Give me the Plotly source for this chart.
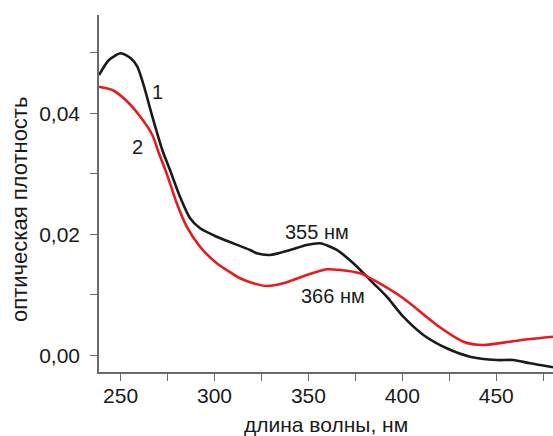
import plotly.graph_objects as go

# curve 1 (black)
wl1 = [238.5, 243.8, 250.1, 255.4, 258.9, 262.5, 266.9, 272.2, 276.3, 281.6, 287.0, 292.3,
       301.2, 318.9, 322.5, 329.6, 340.2, 349.1, 356.2, 365.1, 373.9, 384.6, 391.7, 400.5,
       411.2, 423.6, 436.0, 450.3, 459.1, 468.0, 480.2]
od1 = [0.04633, 0.04881, 0.04992, 0.04909, 0.04770, 0.04440, 0.03944, 0.03393, 0.03063,
       0.02621, 0.02264, 0.02099, 0.01960, 0.01741, 0.01686, 0.01658, 0.01741, 0.01823,
       0.01851, 0.01741, 0.01521, 0.01190, 0.00969, 0.00638, 0.00336, 0.00116, -0.00023,
       -0.00078, -0.00078, -0.00132, -0.00198]

# curve 2 (red)
wl2 = [238.5, 245.6, 252.7, 259.8, 266.9, 270.4, 274.5, 279.9, 285.2, 292.3, 301.2, 306.5,
       313.6, 320.7, 327.8, 336.6, 349.1, 359.7, 366.8, 377.5, 384.6, 400.5, 418.3, 432.5,
       443.1, 457.3, 468.0, 480.2]
od2 = [0.04440, 0.04385, 0.04220, 0.03972, 0.03641, 0.03339, 0.03008, 0.02512, 0.02126,
       0.01795, 0.01521, 0.01410, 0.01273, 0.01190, 0.01145, 0.01190, 0.01327, 0.01421,
       0.01410, 0.01355, 0.01245, 0.00942, 0.00501, 0.00225, 0.00170, 0.00225, 0.00269,
       0.00307]

x_ticks = [250, 300, 350, 400, 450]
y_ticks = [0.00, 0.02, 0.04]

FONT = "Liberation Sans, Arial, sans-serif"
AX = "#6a6a6a"
TXT = "#1a1a1a"

fig = go.Figure()
fig.add_trace(go.Scatter(x=wl1, y=od1, mode="lines",
                         line=dict(color="#1a1a1a", width=2.6, shape="spline", smoothing=0.7),
                         showlegend=False, hoverinfo="skip"))
fig.add_trace(go.Scatter(x=wl2, y=od2, mode="lines",
                         line=dict(color="#e8191f", width=2.6, shape="spline", smoothing=0.7),
                         showlegend=False, hoverinfo="skip"))

ann_font = dict(family=FONT, size=20, color=TXT)
fig.add_annotation(x=269.5, y=0.04357, text="1", showarrow=False, font=ann_font)
fig.add_annotation(x=258.9, y=0.03448, text="2", showarrow=False, font=ann_font)
fig.add_annotation(x=354.4, y=0.02043, text="355 нм", showarrow=False, font=ann_font)
fig.add_annotation(x=363.1, y=0.0098, text="366 нм", showarrow=False, font=ann_font)
# axis titles
fig.add_annotation(xref="paper", yref="paper", x=-0.174, y=0.454, text="оптическая плотность",
                   textangle=-90, showarrow=False, font=dict(family=FONT, size=22, color=TXT),
                   xanchor="center", yanchor="middle")
fig.add_annotation(xref="paper", yref="paper", x=0.499, y=-0.148, text="длина волны, нм",
                   showarrow=False, font=dict(family=FONT, size=21, color=TXT),
                   xanchor="center", yanchor="middle")

fig.update_layout(
    width=553, height=436,
    margin=dict(l=99, r=0, t=15, b=64, autoexpand=False),
    paper_bgcolor="white", plot_bgcolor="white",
    separators=", ",
    font=dict(family=FONT, size=20, color=TXT),
    xaxis=dict(range=[238.5, 480.2], tickvals=x_ticks, ticks="outside", ticklen=7,
               tickwidth=1.3, tickcolor=AX, showline=True, linecolor=AX, linewidth=1.5,
               showgrid=False, zeroline=False, tickfont=dict(size=21), automargin=False,
               ticklabelstandoff=-3,
               minor=dict(dtick=25, tick0=250, ticks="outside", ticklen=7, tickwidth=1.3,
                          tickcolor=AX, showgrid=False)),
    yaxis=dict(range=[-0.00276, 0.05625], tickvals=y_ticks, tickformat=".2f",
               ticks="outside", ticklen=7, tickwidth=1.3, tickcolor=AX,
               showline=True, linecolor=AX, linewidth=1.5, showgrid=False, zeroline=False,
               tickfont=dict(size=21), automargin=False, ticklabelstandoff=6,
               minor=dict(dtick=0.01, tick0=0, ticks="outside", ticklen=7, tickwidth=1.3,
                          tickcolor=AX, showgrid=False)),
)

fig.write_html("out.html", config={"displayModeBar": False},
               post_script="document.body.style.margin='0';document.body.style.overflow='hidden';")
